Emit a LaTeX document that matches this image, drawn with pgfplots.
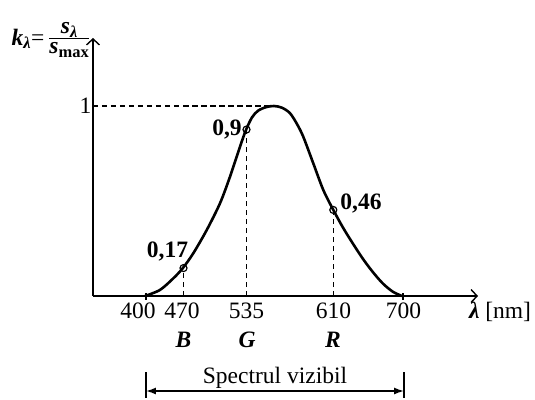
\documentclass[border=0pt]{standalone}
\usepackage{amsmath}
\usepackage{pgfplots}
\pgfplotsset{compat=1.18}
\usepackage{fontspec}
\setmainfont{Liberation Serif}
\usetikzlibrary{arrows.meta}
\newcommand{\fs}{\fontsize{23.5}{27}\selectfont}
\begin{document}
\begin{tikzpicture}
\begin{axis}[
 scale only axis, width=385pt, height=258pt,
 xmin=93, xmax=478, ymin=0, ymax=1.3579,
 axis lines=left,
 axis line style={line width=1.5pt, -{Straight Barb[length=6pt,width=13pt,line width=1.4pt]}},
 clip=false,
 xtick={138,182,246.5,333.5,403.5}, xticklabels={400,470,535,610,700},
 xtick style={draw=none},
 extra x ticks={146,403}, extra x tick labels={},
 extra x tick style={major tick length=7pt, tick align=center, xtick style={draw=black, line width=1.1pt}},
 ytick={1}, yticklabels={1},
 ytick style={draw=none},
 tick label style={font=\fs},
 xticklabel style={yshift=-1pt},
 yticklabel style={xshift=4pt},
 /pgf/number format/assume math mode=true,
]
\addplot[line width=2.6pt, smooth, tension=0.5] coordinates {
(145,0) (160,0.032) (173.3,0.093) (182.7,0.146) (193.3,0.225) (206.7,0.347)
(220,0.488) (230,0.628) (240,0.786) (246,0.874) (252,0.94) (258,0.975) (266,0.994)
(274,1.0) (282,0.991) (290,0.962) (297,0.905) (303.3,0.838) (313.3,0.698) (323.3,0.558)
(333.3,0.453) (343,0.36) (353,0.275) (363,0.195) (373,0.125) (383,0.065) (393,0.022) (402,0)};
\addplot[line width=1.2pt, dash pattern=on 5.5pt off 3.5pt] coordinates {(93,1) (274,1)};
\addplot[line width=1.2pt, dash pattern=on 5.5pt off 3.5pt] coordinates {(183.5,0) (183.5,0.147)};
\addplot[line width=1.2pt, dash pattern=on 5.5pt off 3.5pt] coordinates {(246.5,0) (246.5,0.876)};
\addplot[line width=1.2pt, dash pattern=on 5.5pt off 3.5pt] coordinates {(333.3,0) (333.3,0.453)};
\addplot[only marks, mark=o, mark size=3.5pt, line width=1.2pt, mark options={fill=white, solid}] coordinates {(183.5,0.147) (246.5,0.876) (333.3,0.453)};

\node[font=\fs\bfseries] at (axis cs:167.5,0.232) {0,17};
\node[font=\fs\bfseries] at (axis cs:227,0.874) {0,9};
\node[font=\fs\bfseries] at (axis cs:361,0.489) {0,46};
\node[font=\fs] at (axis cs:500,-0.084) {\textbf{\textit{λ}} [nm]};
\node[font=\fs\bfseries\itshape] at (axis cs:183.5,-0.2316) {B};
\node[font=\fs\bfseries\itshape] at (axis cs:247,-0.2316) {G};
\node[font=\fs\bfseries\itshape] at (axis cs:333,-0.2316) {R};
\node[font=\fs] at (axis cs:275,-0.432) {Spectrul vizibil};
\draw[line width=1.3pt] (axis cs:146,-0.4) -- (axis cs:146,-0.537);
\draw[line width=1.3pt] (axis cs:404,-0.4) -- (axis cs:404,-0.537);
\draw[line width=1.4pt, {Latex[length=10pt,width=7pt]}-{Latex[length=10pt,width=7pt]}] (axis cs:146,-0.5) -- (axis cs:404,-0.5);
\node[font=\fs, inner sep=0pt] at (axis cs:51,1.347) {\textbf{\textit{k}}\textsubscript{\textbf{\textit{λ}}}=\,$\genfrac{}{}{1pt}{}{\mbox{\textbf{\textit{s}}\textsubscript{\textbf{\textit{λ}}}}}{\mbox{\textbf{\textit{s}}\textsubscript{\textbf{max}}}}$};
\coordinate (tl) at (axis cs:0,1.5579);
\coordinate (br) at (axis cs:535,-0.5421);
\end{axis}
\pgfresetboundingbox
\useasboundingbox (tl) rectangle (br);
\end{tikzpicture}
\end{document}
